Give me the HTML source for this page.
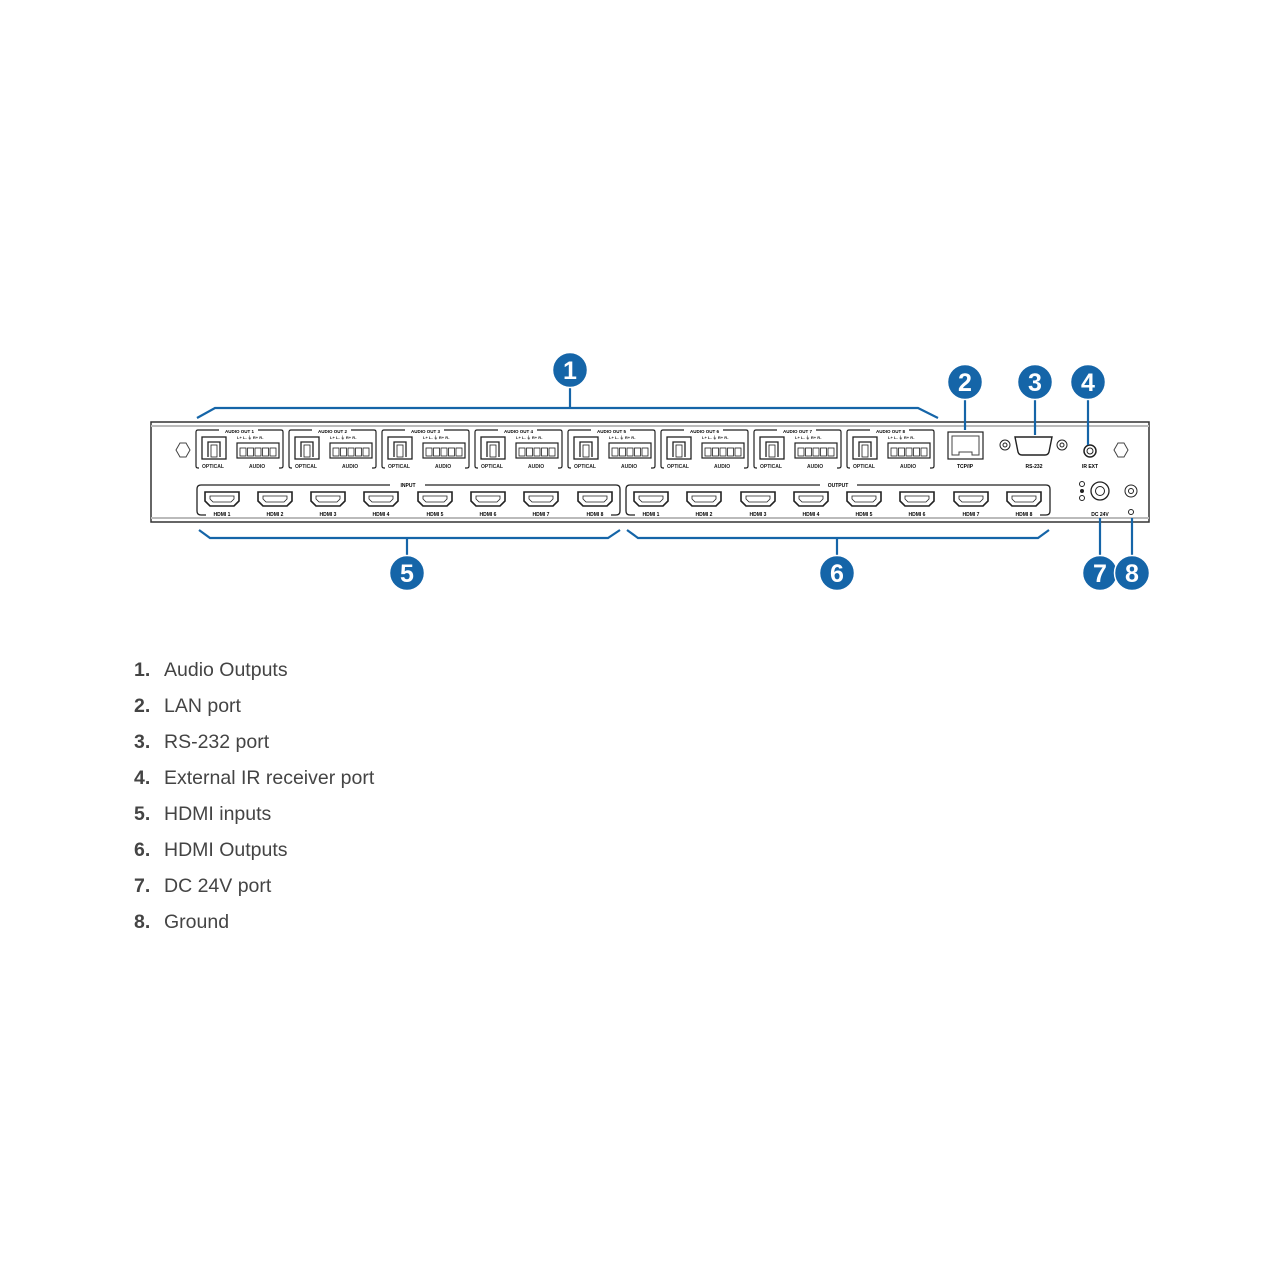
<!DOCTYPE html>
<html><head><meta charset="utf-8"><style>
body{margin:0;background:#fff;width:1280px;height:1280px;overflow:hidden;font-family:"Liberation Sans",Arial,sans-serif}
.list{position:absolute;left:134px;top:657px;color:#444;font-size:19.5px}
.list div{height:36px;line-height:26px}
.list b{display:inline-block;width:30px;font-weight:bold}
</style></head><body>
<svg width="1280" height="640" style="position:absolute;left:0;top:0" font-family="Liberation Sans, Arial, sans-serif">
<defs>
<g id="hd"><path d="M-17,-7 H17 V2 L12,7 H-12 L-17,2 Z" fill="#fff" stroke="#222" stroke-width="1.6"/><path d="M-12,-3 H12 V0 L9,3 H-9 L-12,0Z" fill="none" stroke="#222" stroke-width="0.8"/></g>
<g id="op"><rect x="0" y="0" width="24" height="22" fill="#fff" stroke="#222" stroke-width="1.3"/><path d="M6,20 V5 H18 V20" fill="none" stroke="#222" stroke-width="1.3"/><rect x="9" y="8" width="6" height="12" fill="none" stroke="#222" stroke-width="0.8"/></g>
<g id="tb"><rect x="0" y="0" width="42" height="15" fill="#fff" stroke="#222" stroke-width="1.2"/>
<rect x="3" y="5" width="6" height="8" fill="none" stroke="#222" stroke-width="0.8"/><rect x="10.5" y="5" width="6" height="8" fill="none" stroke="#222" stroke-width="0.8"/><rect x="18" y="5" width="6" height="8" fill="none" stroke="#222" stroke-width="0.8"/><rect x="25.5" y="5" width="6" height="8" fill="none" stroke="#222" stroke-width="0.8"/><rect x="33" y="5" width="6" height="8" fill="none" stroke="#222" stroke-width="0.8"/></g>
<g id="grp"><path d="M3,14 V2 Q3,0 5,0 H26 M65,0 H88 Q90,0 90,2 V36 Q90,38 88,38 H86 M3,14 V36 Q3,38 5,38 H6" fill="none" stroke="#222" stroke-width="1.2"/>
<use href="#op" x="9" y="7"/><use href="#tb" x="44" y="13"/>
<text x="9" y="38" font-size="5" font-weight="bold" fill="#222">OPTICAL</text><text x="56" y="38" font-size="5" font-weight="bold" fill="#222">AUDIO</text>
<text x="44" y="9" font-size="4" font-weight="bold" fill="#222">L+ L-  ⏚  R+ R-</text></g>
</defs>
<rect x="151" y="422" width="998" height="100" fill="#fff" stroke="#333" stroke-width="1.5"/>
<line x1="151" y1="426" x2="1149" y2="426" stroke="#bbb" stroke-width="2"/>
<line x1="151" y1="518" x2="1149" y2="518" stroke="#bbb" stroke-width="2"/>
<polygon points="176,450 180,443 186,443 190,450 186,457 180,457" fill="#fff" stroke="#444"/>
<polygon points="1114,450 1118,443 1124,443 1128,450 1124,457 1118,457" fill="#fff" stroke="#444"/>
<g transform="translate(193,430)"><use href="#grp"/><text x="32" y="3" font-size="4.5" font-weight="bold">AUDIO OUT 1</text></g>
<g transform="translate(286,430)"><use href="#grp"/><text x="32" y="3" font-size="4.5" font-weight="bold">AUDIO OUT 2</text></g>
<g transform="translate(379,430)"><use href="#grp"/><text x="32" y="3" font-size="4.5" font-weight="bold">AUDIO OUT 3</text></g>
<g transform="translate(472,430)"><use href="#grp"/><text x="32" y="3" font-size="4.5" font-weight="bold">AUDIO OUT 4</text></g>
<g transform="translate(565,430)"><use href="#grp"/><text x="32" y="3" font-size="4.5" font-weight="bold">AUDIO OUT 5</text></g>
<g transform="translate(658,430)"><use href="#grp"/><text x="32" y="3" font-size="4.5" font-weight="bold">AUDIO OUT 6</text></g>
<g transform="translate(751,430)"><use href="#grp"/><text x="32" y="3" font-size="4.5" font-weight="bold">AUDIO OUT 7</text></g>
<g transform="translate(844,430)"><use href="#grp"/><text x="32" y="3" font-size="4.5" font-weight="bold">AUDIO OUT 8</text></g>
<rect x="948" y="432" width="35" height="27" fill="#fff" stroke="#222" stroke-width="1.2"/>
<path d="M952,436 H979 V455 H972 V452 H959 V455 H952Z" fill="none" stroke="#444"/>
<text x="965" y="468" font-size="5" font-weight="bold" text-anchor="middle">TCP/IP</text>
<circle cx="1005" cy="445" r="5" fill="#fff" stroke="#222"/><circle cx="1005" cy="445" r="2" fill="none" stroke="#222"/>
<circle cx="1062" cy="445" r="5" fill="#fff" stroke="#222"/><circle cx="1062" cy="445" r="2" fill="none" stroke="#222"/>
<path d="M1015,437 H1052 L1049,452 Q1048,455 1045,455 H1022 Q1019,455 1018,452Z" fill="#fff" stroke="#222" stroke-width="1.4"/>
<text x="1034" y="468" font-size="5" font-weight="bold" text-anchor="middle">RS-232</text>
<circle cx="1090" cy="451" r="6" fill="#fff" stroke="#222" stroke-width="1.5"/><circle cx="1090" cy="451" r="3" fill="none" stroke="#222"/>
<text x="1090" y="468" font-size="5" font-weight="bold" text-anchor="middle">IR EXT</text>
<circle cx="1100" cy="491" r="9" fill="#fff" stroke="#222" stroke-width="1.3"/><circle cx="1100" cy="491" r="4.5" fill="none" stroke="#222"/>
<circle cx="1082" cy="484" r="2.5" fill="none" stroke="#222"/><circle cx="1082" cy="491" r="2" fill="#222"/><circle cx="1082" cy="498" r="2.5" fill="none" stroke="#222"/>
<text x="1100" y="516" font-size="5" font-weight="bold" text-anchor="middle">DC 24V</text>
<circle cx="1131" cy="491" r="6" fill="#fff" stroke="#222"/><circle cx="1131" cy="491" r="2.5" fill="none" stroke="#222"/>
<circle cx="1131" cy="512" r="2.5" fill="none" stroke="#222"/>
<path d="M390,485 H201 Q197,485 197,489 V511 Q197,515 201,515 H206 M425,485 H616 Q620,485 620,489 V511 Q620,515 616,515 H611" fill="none" stroke="#222" stroke-width="1.3"/>
<text x="408" y="487" font-size="5" font-weight="bold" text-anchor="middle">INPUT</text>
<path d="M820,485 H630 Q626,485 626,489 V511 Q626,515 630,515 H635 M857,485 H1046 Q1050,485 1050,489 V511 Q1050,515 1046,515 H1040" fill="none" stroke="#222" stroke-width="1.3"/>
<text x="838" y="487" font-size="5" font-weight="bold" text-anchor="middle">OUTPUT</text>
<g font-size="5" font-weight="bold" text-anchor="middle">
<use href="#hd" x="222" y="499"/><text x="222" y="516">HDMI 1</text>
<use href="#hd" x="275" y="499"/><text x="275" y="516">HDMI 2</text>
<use href="#hd" x="328" y="499"/><text x="328" y="516">HDMI 3</text>
<use href="#hd" x="381" y="499"/><text x="381" y="516">HDMI 4</text>
<use href="#hd" x="435" y="499"/><text x="435" y="516">HDMI 5</text>
<use href="#hd" x="488" y="499"/><text x="488" y="516">HDMI 6</text>
<use href="#hd" x="541" y="499"/><text x="541" y="516">HDMI 7</text>
<use href="#hd" x="595" y="499"/><text x="595" y="516">HDMI 8</text>
<use href="#hd" x="651" y="499"/><text x="651" y="516">HDMI 1</text>
<use href="#hd" x="704" y="499"/><text x="704" y="516">HDMI 2</text>
<use href="#hd" x="758" y="499"/><text x="758" y="516">HDMI 3</text>
<use href="#hd" x="811" y="499"/><text x="811" y="516">HDMI 4</text>
<use href="#hd" x="864" y="499"/><text x="864" y="516">HDMI 5</text>
<use href="#hd" x="917" y="499"/><text x="917" y="516">HDMI 6</text>
<use href="#hd" x="971" y="499"/><text x="971" y="516">HDMI 7</text>
<use href="#hd" x="1024" y="499"/><text x="1024" y="516">HDMI 8</text>
</g>
<g stroke="#1565a8" stroke-width="2.2" fill="none">
<path d="M197,418 L215,408 H918 L938,418"/><path d="M570,387 V408"/>
<path d="M199,530 L210,538 H608 L620,530"/><path d="M407,538 V556"/>
<path d="M627,530 L638,538 H1038 L1049,530"/><path d="M837,538 V556"/>
<path d="M965,399 V430"/><path d="M1035,399 V435"/><path d="M1088,399 V445"/>
<path d="M1100,518 V556"/><path d="M1132,518 V556"/>
</g>
<g fill="#1565a8" stroke="#fff" stroke-width="1.5">
<circle cx="570" cy="370" r="17.5"/><circle cx="965" cy="382" r="17.5"/><circle cx="1035" cy="382" r="17.5"/><circle cx="1088" cy="382" r="17.5"/>
<circle cx="407" cy="573" r="17.5"/><circle cx="837" cy="573" r="17.5"/><circle cx="1100" cy="573" r="17.5"/><circle cx="1132" cy="573" r="17.5"/>
</g>
<g fill="#fff" font-size="25" font-weight="bold" text-anchor="middle">
<text x="570" y="379">1</text><text x="965" y="391">2</text><text x="1035" y="391">3</text><text x="1088" y="391">4</text>
<text x="407" y="582">5</text><text x="837" y="582">6</text><text x="1100" y="582">7</text><text x="1132" y="582">8</text>
</g>
</svg>
<div class="list">
<div><b>1.</b>Audio Outputs</div>
<div><b>2.</b>LAN port</div>
<div><b>3.</b>RS-232 port</div>
<div><b>4.</b>External IR receiver port</div>
<div><b>5.</b>HDMI inputs</div>
<div><b>6.</b>HDMI Outputs</div>
<div><b>7.</b>DC 24V port</div>
<div><b>8.</b>Ground</div>
</div>
</body></html>
